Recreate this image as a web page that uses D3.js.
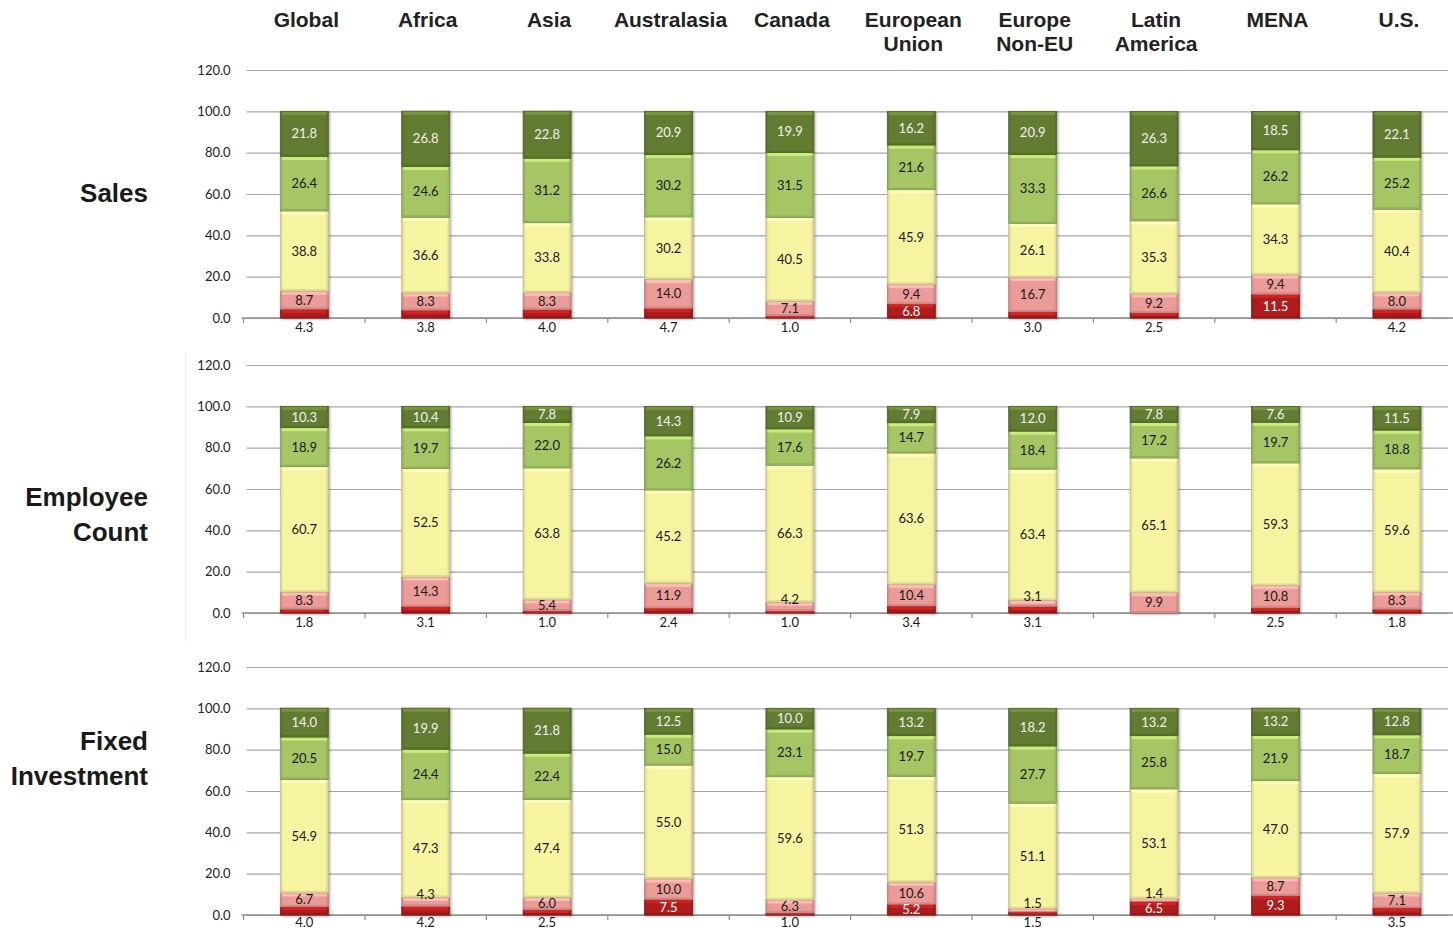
<!DOCTYPE html>
<html>
<head>
<meta charset="utf-8">
<script src="https://cdn.jsdelivr.net/npm/d3@7/dist/d3.min.js"></script>
<style>
  html, body { margin: 0; padding: 0; background: #ffffff; }
  svg { display: block; }
</style>
</head>
<body>
<svg id="chart" width="1453" height="930"></svg>
<script>
// ---------------- DATA ----------------
const categories = ["Global", "Africa", "Asia", "Australasia", "Canada", "European Union", "Europe Non-EU", "Latin America", "MENA", "U.S."];
const categoryHeaderLines = [["Global"], ["Africa"], ["Asia"], ["Australasia"], ["Canada"], ["European", "Union"], ["Europe", "Non-EU"], ["Latin", "America"], ["MENA"], ["U.S."]];
const panelNames = ["Sales", "Employee Count", "Fixed Investment"];
const panelNameLines = [["Sales"], ["Employee", "Count"], ["Fixed", "Investment"]];
const seriesNames = ["Series 1", "Series 2", "Series 3", "Series 4", "Series 5"];
const yTickValues = [0, 20, 40, 60, 80, 100, 120];

// Sales
const salesS1 = [4.3, 3.8, 4.0, 4.7, 1.0, 6.8, 3.0, 2.5, 11.5, 4.2];
const salesS2 = [8.7, 8.3, 8.3, 14.0, 7.1, 9.4, 16.7, 9.2, 9.4, 8.0];
const salesS3 = [38.8, 36.6, 33.8, 30.2, 40.5, 45.9, 26.1, 35.3, 34.3, 40.4];
const salesS4 = [26.4, 24.6, 31.2, 30.2, 31.5, 21.6, 33.3, 26.6, 26.2, 25.2];
const salesS5 = [21.8, 26.8, 22.8, 20.9, 19.9, 16.2, 20.9, 26.3, 18.5, 22.1];

// Employee Count
const empS1 = [1.8, 3.1, 1.0, 2.4, 1.0, 3.4, 3.1, 0, 2.5, 1.8];
const empS2 = [8.3, 14.3, 5.4, 11.9, 4.2, 10.4, 3.1, 9.9, 10.8, 8.3];
const empS3 = [60.7, 52.5, 63.8, 45.2, 66.3, 63.6, 63.4, 65.1, 59.3, 59.6];
const empS4 = [18.9, 19.7, 22.0, 26.2, 17.6, 14.7, 18.4, 17.2, 19.7, 18.8];
const empS5 = [10.3, 10.4, 7.8, 14.3, 10.9, 7.9, 12.0, 7.8, 7.6, 11.5];

// Fixed Investment
const fiS1 = [4.0, 4.2, 2.5, 7.5, 1.0, 5.2, 1.5, 6.5, 9.3, 3.5];
const fiS2 = [6.7, 4.3, 6.0, 10.0, 6.3, 10.6, 1.5, 1.4, 8.7, 7.1];
const fiS3 = [54.9, 47.3, 47.4, 55.0, 59.6, 51.3, 51.1, 53.1, 47.0, 57.9];
const fiS4 = [20.5, 24.4, 22.4, 15.0, 23.1, 19.7, 27.7, 25.8, 21.9, 18.7];
const fiS5 = [14.0, 19.9, 21.8, 12.5, 10.0, 13.2, 18.2, 13.2, 13.2, 12.8];

const panelSeries = [
  [salesS1, salesS2, salesS3, salesS4, salesS5],
  [empS1, empS2, empS3, empS4, empS5],
  [fiS1, fiS2, fiS3, fiS4, fiS5]
];

// ---------------- STYLE ----------------
const seriesColors = ["#b01c1c", "#ec9c98", "#f6f3a1", "#a6c565", "#637c33"];
const labelColors = ["#ffffff", "#1a1a1a", "#1a1a1a", "#1a1a1a", "#f2f2f2"];
const W = 1453, H = 930;
const plotLeft = 243.6, plotRight = 1457.6, gridRight = 1448;
const panelTops = [70, 365, 667];
const panelHeight = 248;
const labelFont = "Lato, 'Open Sans', sans-serif";
const headFont = "'Liberation Sans', Arial, sans-serif";

const svg = d3.select("#chart");

// defs: gradients + shadow
const defs = svg.append("defs");
seriesColors.forEach((c, i) => {
  const g = defs.append("linearGradient").attr("id", "grad" + i)
    .attr("x1", "0").attr("x2", "1").attr("y1", "0").attr("y2", "0");
  const dk = d3.color(c).darker(0.35).formatHex();
  g.append("stop").attr("offset", "0%").attr("stop-color", dk);
  g.append("stop").attr("offset", "7%").attr("stop-color", c);
  g.append("stop").attr("offset", "93%").attr("stop-color", c);
  g.append("stop").attr("offset", "100%").attr("stop-color", dk);
});
const f = defs.append("filter").attr("id", "shadow").attr("x", "-20%").attr("y", "-5%").attr("width", "140%").attr("height", "110%");
f.append("feDropShadow").attr("dx", 1.2).attr("dy", 1).attr("stdDeviation", 1).attr("flood-color", "#000").attr("flood-opacity", 0.35);

const x = d3.scaleBand().domain(categories).range([plotLeft, plotRight]).padding(0);
const barW = x.bandwidth() * 0.395;

// Column headers
categories.forEach((cat, i) => {
  const cx = x(cat) + x.bandwidth() / 2 + 2;
  const t = svg.append("text")
    .attr("x", cx).attr("y", 27)
    .attr("text-anchor", "middle")
    .attr("font-family", headFont).attr("font-weight", "bold")
    .attr("font-size", 21).attr("fill", "#222");
  categoryHeaderLines[i].forEach((ln, j) => {
    t.append("tspan").attr("x", cx).attr("dy", j === 0 ? 0 : 24).text(ln);
  });
});

// faint chart border line (panel 2)
svg.append("line").attr("x1", 185.5).attr("x2", 185.5).attr("y1", 352).attr("y2", 642)
  .attr("stroke", "#ececec").attr("stroke-width", 1);

panelSeries.forEach((series, p) => {
  const top = panelTops[p];
  const y = d3.scaleLinear().domain([0, 120]).range([top + panelHeight, top]);
  const g = svg.append("g");

  // Panel name
  const lines = panelNameLines[p];
  const centerY = [193, 514, 758][p];
  const lh = 35;
  const nt = g.append("text")
    .attr("x", 148).attr("text-anchor", "end")
    .attr("font-family", headFont).attr("font-weight", "bold")
    .attr("font-size", 26).attr("fill", "#1a1a1a");
  lines.forEach((ln, j) => {
    nt.append("tspan").attr("x", 148)
      .attr("y", centerY - (lines.length - 1) * lh / 2 + j * lh + 9)
      .text(ln);
  });

  // Gridlines + y axis
  const yAxis = d3.axisLeft(y).tickValues(yTickValues).tickFormat(d3.format(".1f"))
    .tickSize(-(gridRight - plotLeft)).tickPadding(13);
  const ya = g.append("g").attr("transform", `translate(${plotLeft},0)`).call(yAxis);
  ya.select(".domain").remove();
  ya.selectAll(".tick line").attr("stroke", "#a6a6a6").attr("stroke-width", 1.2).attr("x1", 3);
  ya.selectAll(".tick text").attr("font-family", labelFont).attr("font-size", 13).attr("fill", "#222");

  // X axis line with ticks at band boundaries
  const y0 = y(0);
  g.append("line").attr("x1", plotLeft - 2).attr("x2", W).attr("y1", y0).attr("y2", y0)
    .attr("stroke", "#8c8c8c").attr("stroke-width", 1.5);
  categories.forEach(cat => {
    const bx = x(cat);
    g.append("line").attr("x1", bx).attr("x2", bx).attr("y1", y0).attr("y2", y0 + 5)
      .attr("stroke", "#8c8c8c").attr("stroke-width", 1.2);
  });

  // Stacked bars
  const rows = categories.map((cat, i) => {
    const obj = { cat };
    series.forEach((s, k) => obj["s" + k] = s[i]);
    return obj;
  });
  const stack = d3.stack().keys(series.map((s, k) => "s" + k));
  const stacked = stack(rows);

  const barsG = g.append("g");
  categories.forEach((cat, i) => {
    const cx = x(cat) + x.bandwidth() / 2;
    const bg = barsG.append("g").attr("filter", "url(#shadow)");
    stacked.forEach((layer, k) => {
      const d = layer[i];
      const v = d[1] - d[0];
      if (v <= 0) return;
      const yTop = y(d[1]), yBot = y(d[0]);
      const h = yBot - yTop;
      const base = seriesColors[k];
      bg.append("rect")
        .attr("x", cx - barW / 2).attr("y", yTop).attr("width", barW).attr("height", h)
        .attr("fill", `url(#grad${k})`)
        .attr("stroke", d3.color(base).darker(0.7).formatHex()).attr("stroke-width", 0.8);
      // bevel highlight at top
      const hh = Math.min(3, h / 2);
      bg.append("rect")
        .attr("x", cx - barW / 2 + 1.5).attr("y", yTop + 0.6).attr("width", barW - 3).attr("height", hh)
        .attr("fill", d3.color(base).brighter(0.6).formatHex()).attr("opacity", 0.85);
      // bevel shade at bottom
      if (h > 4) {
        bg.append("rect")
          .attr("x", cx - barW / 2 + 1).attr("y", yBot - 2).attr("width", barW - 2).attr("height", 1.6)
          .attr("fill", d3.color(base).darker(0.4).formatHex()).attr("opacity", 0.8);
      }
    });
  });

  // Labels
  const labG = g.append("g").attr("font-family", labelFont).attr("font-size", 13).attr("text-anchor", "middle");
  categories.forEach((cat, i) => {
    const cx = x(cat) + x.bandwidth() / 2;
    stacked.forEach((layer, k) => {
      const d = layer[i];
      const v = series[k][i];
      if (!v) return;
      const yTop = y(d[1]), yBot = y(d[0]);
      const h = yBot - yTop;
      let ly, col = labelColors[k];
      if (k === 0 && v < 5) {
        ly = Math.min(y0 + 9.5, H - 8);   // small bottom segment: label under the axis
        col = "#1a1a1a";
      } else {
        ly = (yTop + yBot) / 2;
        if (h < 10) ly -= 7;   // label larger than segment: nudge upward
      }
      labG.append("text").attr("x", cx).attr("y", ly).attr("dy", "0.35em")
        .attr("fill", col).text(d3.format(".1f")(v));
    });
  });
});
</script>
</body>
</html>
